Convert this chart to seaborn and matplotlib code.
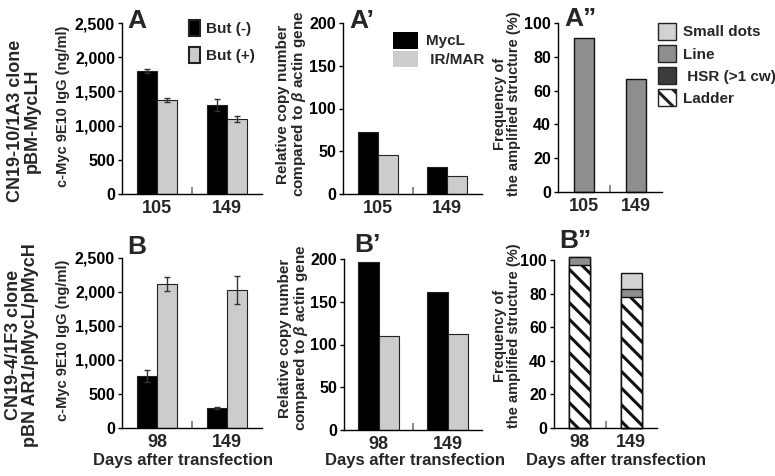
# Six-panel summary: c-Myc IgG, relative copy number and amplified structure
# frequency for two clones (top: CN19-10/1A3, bottom: CN19-4/1F3).

import numpy as np
import pandas as pd
import matplotlib
matplotlib.use("Agg")
import matplotlib.pyplot as plt
from matplotlib.patches import Patch
from matplotlib.ticker import StrMethodFormatter
import seaborn as sns

W, H = 775, 476

# --- data -----------------------------------------------------------------
days_a = ["105", "149"]
days_b = ["98", "149"]

but_levels = ["But (-)", "But (+)"]
igg_a_minus     = [1800, 1300]
igg_a_plus      = [1375, 1095]
igg_a_minus_err = [25, 85]
igg_a_plus_err  = [35, 45]
igg_b_minus     = [770, 295]
igg_b_plus      = [2120, 2030]
igg_b_minus_err = [90, 10]
igg_b_plus_err  = [105, 200]

copy_levels  = ["MycL", "IR/MAR"]
copy_a_mycl  = [72, 31]
copy_a_irmar = [46, 21]
copy_b_mycl  = [197, 161]
copy_b_irmar = [110, 112]

struct_levels = ["Small dots", "Line", "HSR (>1 cw)", "Ladder"]
freq_a_ladder = [0, 0]
freq_a_hsr    = [0, 0]
freq_a_line   = [91, 67]
freq_a_dots   = [0, 0]
freq_b_ladder = [97, 78]
freq_b_hsr    = [0, 0]
freq_b_line   = [5, 5]
freq_b_dots   = [0, 9.5]

BLACK = "#000000"
LIGHT = "#cccccc"
STRUCT_COLORS = {"Small dots": "#d2d2d2", "Line": "#8e8e8e",
                 "HSR (>1 cw)": "#3c3c3c", "Ladder": "#ffffff"}
HATCH = "\\\\"

sns.set_theme(style="ticks")
plt.rcParams["font.family"] = ["Liberation Sans", "DejaVu Sans"]
plt.rcParams["font.weight"] = "bold"
plt.rcParams["axes.labelweight"] = "bold"
plt.rcParams["mathtext.fontset"] = "custom"
plt.rcParams["mathtext.it"] = "Liberation Sans:italic"
plt.rcParams["mathtext.rm"] = "Liberation Sans"
plt.rcParams["hatch.linewidth"] = 2.2


def px(x, y):
    return x / W, 1 - y / H


def add_ax(fig, l, t, r, b):
    return fig.add_axes([l / W, 1 - b / H, (r - l) / W, (b - t) / H])


def style_axis(ax, ymax, step, comma=False):
    ax.set_xlim(-0.5, 1.5)
    ax.set_ylim(0, ymax)
    ax.set_yticks(np.arange(0, ymax + 1, step))
    if comma:
        ax.yaxis.set_major_formatter(StrMethodFormatter("{x:,.0f}"))
    sns.despine(ax=ax)
    for s in ("left", "bottom"):
        ax.spines[s].set_color("black")
        ax.spines[s].set_linewidth(1)
    ax.tick_params(axis="y", direction="out", length=3, width=1,
                   labelsize=11.5, pad=2, colors="black")
    ax.tick_params(axis="x", which="major", length=0, labelsize=13, pad=4)
    ax.set_xticks([0.5], minor=True)
    ax.tick_params(axis="x", which="minor", direction="in", length=5,
                   width=1.2, color="#777777")
    ax.set_xlabel("")
    ax.set_ylabel("")


def grouped(ax, days, levels, v1, v2, colors, e1=None, e2=None):
    df = pd.DataFrame({
        "day": days * 2,
        "group": [levels[0]] * len(days) + [levels[1]] * len(days),
        "value": v1 + v2,
    })
    sns.barplot(data=df, x="day", y="value", hue="group", order=days,
                hue_order=levels, palette=colors, width=0.58, saturation=1,
                errorbar=None, legend=False, edgecolor="#222222",
                linewidth=0.8, ax=ax)
    if e1 is not None:
        # seaborn draws hue level by level, so patches follow v1 then v2
        bars = ax.patches[:len(days) * 2]
        xs = [p.get_x() + p.get_width() / 2 for p in bars]
        ys = [p.get_height() for p in bars]
        ax.errorbar(xs, ys, yerr=e1 + e2, fmt="none", ecolor="#333333",
                    elinewidth=1, capsize=2.5, capthick=1)


def stacked(ax, days, ladder, hsr, line, dots):
    # layers drawn from the tallest cumulative total down
    layers = [
        ("Small dots", np.add(np.add(np.add(ladder, hsr), line), dots)),
        ("Line", np.add(np.add(ladder, hsr), line)),
        ("HSR (>1 cw)", np.add(ladder, hsr)),
        ("Ladder", np.array(ladder)),
    ]
    seg = {"Small dots": dots, "Line": line, "HSR (>1 cw)": hsr, "Ladder": ladder}
    for name, tops in layers:
        if not any(seg[name]):
            continue
        n0 = len(ax.patches)
        df = pd.DataFrame({"day": days, "value": tops})
        sns.barplot(data=df, x="day", y="value", order=days, color=STRUCT_COLORS[name],
                    width=0.4, saturation=1, errorbar=None, edgecolor="#111111",
                    linewidth=1, ax=ax)
        for p in ax.patches[n0:]:
            p.set_clip_on(False)
            if name == "Ladder":
                p.set_hatch(HATCH)


fig = plt.figure(figsize=(W / 100, H / 100), dpi=100)

ax_a  = add_ax(fig, 122, 23, 262, 194)
ax_a1 = add_ax(fig, 343, 23, 482, 194)
ax_a2 = add_ax(fig, 558, 23, 662, 192)
ax_b  = add_ax(fig, 122, 258, 262, 428)
ax_b1 = add_ax(fig, 344, 259, 482, 430)
ax_b2 = add_ax(fig, 554, 260, 657, 428)

grouped(ax_a, days_a, but_levels, igg_a_minus, igg_a_plus, [BLACK, LIGHT],
        igg_a_minus_err, igg_a_plus_err)
grouped(ax_b, days_b, but_levels, igg_b_minus, igg_b_plus, [BLACK, LIGHT],
        igg_b_minus_err, igg_b_plus_err)
grouped(ax_a1, days_a, copy_levels, copy_a_mycl, copy_a_irmar, [BLACK, LIGHT])
grouped(ax_b1, days_b, copy_levels, copy_b_mycl, copy_b_irmar, [BLACK, LIGHT])
stacked(ax_a2, days_a, freq_a_ladder, freq_a_hsr, freq_a_line, freq_a_dots)
stacked(ax_b2, days_b, freq_b_ladder, freq_b_hsr, freq_b_line, freq_b_dots)

for ax in (ax_a, ax_b):
    style_axis(ax, 2500, 500, comma=True)
for ax in (ax_a1, ax_b1):
    style_axis(ax, 200, 50)
for ax in (ax_a2, ax_b2):
    style_axis(ax, 100, 20)

# y labels, placed by their centre in figure pixels
ylabels = [
    (ax_a,  "c-Myc 9E10 IgG (ng/ml)", 10.5, (63, 106)),
    (ax_b,  "c-Myc 9E10 IgG (ng/ml)", 10.5, (63, 340)),
    (ax_a1, "Relative copy number\ncompared to $\\it{\\beta}$ actin gene", 11, (292, 104)),
    (ax_b1, "Relative copy number\ncompared to $\\it{\\beta}$ actin gene", 11, (294, 338)),
    (ax_a2, "Frequency of\nthe amplified structure (%)", 10.5, (507, 104)),
    (ax_b2, "Frequency of\nthe amplified structure (%)", 10.5, (507, 336)),
]
for ax, text, size, pos in ylabels:
    ax.set_ylabel(text, fontsize=size, va="center", linespacing=1.0)
    ax.yaxis.set_label_coords(*px(*pos), transform=fig.transFigure)

for ax, cx in ((ax_b, 183), (ax_b1, 415), (ax_b2, 616)):
    ax.set_xlabel("Days after transfection", fontsize=12, va="center")
    ax.xaxis.set_label_coords(*px(cx, 461), transform=fig.transFigure)

# panel letters
for text, x, y in (("A", 127, 28), ("A\u2019", 349, 28), ("A\u201d", 564, 26),
                   ("B", 127, 254), ("B\u2019", 354, 252), ("B\u201d", 559, 248)):
    fig.text(*px(x, y), text, fontsize=19, fontweight="bold", va="baseline")

# clone labels
fig.text(*px(24, 121), "CN19-10/1A3 clone\npBM-MycLH", rotation=90,
         ha="center", va="center", fontsize=13, fontweight="bold", linespacing=1.0)
fig.text(*px(22, 345), "CN19-4/1F3 clone\npBN AR1/pMycL/pMycH", rotation=90,
         ha="center", va="center", fontsize=13, fontweight="bold", linespacing=1.0)

# legends
leg_a = [Patch(facecolor=BLACK, edgecolor="#222222", linewidth=1.5),
         Patch(facecolor=LIGHT, edgecolor="#222222", linewidth=1.5)]
ax_a.legend(leg_a, but_levels, loc="upper left", bbox_to_anchor=px(189, 20),
            bbox_transform=fig.transFigure, frameon=False, fontsize=11,
            handlelength=0.75, handleheight=1.25, handletextpad=0.35,
            labelspacing=0.7, borderpad=0, borderaxespad=0)

leg_c = [Patch(facecolor=BLACK, linewidth=0), Patch(facecolor=LIGHT, linewidth=0)]
ax_a1.legend(leg_c, ["MycL", " IR/MAR"], loc="upper left", bbox_to_anchor=px(393, 32),
             bbox_transform=fig.transFigure, frameon=False, fontsize=11,
             handlelength=1.63, handleheight=1.3, handletextpad=0.55,
             labelspacing=0.13, borderpad=0, borderaxespad=0)

leg_s = [Patch(facecolor=STRUCT_COLORS[k], edgecolor="#222222", linewidth=1,
               hatch=HATCH if k == "Ladder" else None) for k in struct_levels]
ax_a2.legend(leg_s, ["Small dots", "Line", " HSR (>1 cw)", "Ladder"], loc="upper left",
             bbox_to_anchor=px(658, 23), bbox_transform=fig.transFigure,
             frameon=False, fontsize=11, handlelength=1.18, handleheight=1.3,
             handletextpad=0.45, labelspacing=0.36, borderpad=0, borderaxespad=0)

fig.savefig("out.png", dpi=100)
